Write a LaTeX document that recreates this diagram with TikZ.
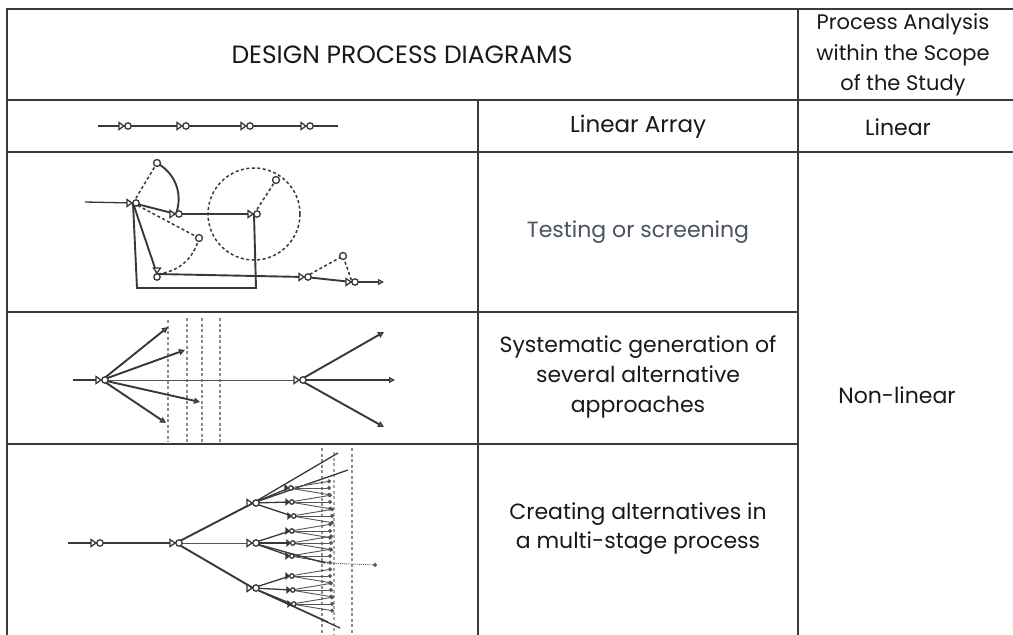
\documentclass[tikz,border=0pt]{standalone}
\usepackage{fontspec}
\setmainfont{Poppins}
\usetikzlibrary{arrows.meta,calc}
\definecolor{gridc}{HTML}{3A3A3A}
\definecolor{slate}{HTML}{4B5263}
\definecolor{inkc}{HTML}{383838}
\tikzset{
  tbl/.style={draw=gridc,line width=2pt},
  txt/.style={font=\fontsize{22}{31}\selectfont,align=center,inner sep=0pt,text=black!90},
  sk/.style={draw=inkc,line width=1.3pt},
  skb/.style={draw=inkc,line width=1.9pt},
  sks/.style={draw=inkc!85,line width=0.9pt},
  dsh/.style={draw=inkc,line width=1.5pt,dash pattern=on 3pt off 2.5pt},
  vdash/.style={draw=black!45,line width=2.6pt,dash pattern=on 3pt off 2.5pt},
  nd/.pic={\draw[sk,fill=white] (-6,-3.5) -- (-6,3.5) -- (-1,0) -- cycle;
           \draw[sk,fill=white] (3,0) circle (3.2);},
  ndv/.pic={\draw[sk,fill=white] (-3.5,-6) -- (3.5,-6) -- (0,-1) -- cycle;
           \draw[sk,fill=white] (0,3) circle (3.2);},
  ndsm/.pic={\draw[sk,fill=inkc] (-4,-2.5) -- (-4,2.5) -- (-1,0) -- cycle;
           \draw[sk,fill=white] (1.8,0) circle (2.2);},
  tip/.style={-{Triangle[open,length=6pt,width=6pt]}},
  dot/.style={-{Circle[length=4pt]}},
}
\begin{document}
\begin{tikzpicture}[x=1pt,y=-1pt]
\useasboundingbox (0,0) rectangle (1013,635);
\fill[white] (0,0) rectangle (1013,635);

% ---------- table grid ----------
\draw[tbl] (7,635) -- (7,9) -- (1013,9);
\draw[tbl] (7,100) -- (1013,100);
\draw[tbl] (7,152) -- (1013,152);
\draw[tbl] (7,312) -- (798,312);
\draw[tbl] (7,444) -- (798,444);
\draw[tbl] (478,100) -- (478,635);
\draw[tbl] (798,9) -- (798,635);

% ---------- texts ----------
\node[txt,font=\fontsize{25}{31}\selectfont] (t1) at (402,55) {DESIGN PROCESS DIAGRAMS};
\node[txt,font=\fontsize{21}{30.5}\selectfont] (t2) at (903,55) {Process Analysis\\within the Scope\\of the Study};
\node[txt,font=\fontsize{23}{31}\selectfont] (t3) at (638,127) {Linear Array};
\node[txt] (t4) at (898,127) {Linear};
\node[txt,text=slate] (t5) at (638,232) {Testing or screening};
\node[txt,font=\fontsize{22}{30}\selectfont] (t6) at (638,377) {Systematic generation of\\several alternative\\approaches};
\node[txt,font=\fontsize{22}{29}\selectfont] (t7) at (638,529) {Creating alternatives in\\a multi-stage process};
\node[txt] (t8) at (897,395) {Non-linear};

% ---------- row 2: linear array ----------
\coordinate (L0) at (98,126);
\coordinate (L1) at (125,126);
\coordinate (L2) at (183,126);
\coordinate (L3) at (247,126);
\coordinate (L4) at (307,126);
\coordinate (L5) at (338,126);
\draw[sk] (L0) -- (L1);
\draw[skb] (L1) -- (L2);
\draw[sk] (L2) -- (L3);
\draw[skb] (L3) -- (L4);
\draw[skb] (L4) -- (L5);
\foreach \n in {L1,L2,L3,L4} \pic at (\n) {nd};

% ---------- row 3: testing or screening ----------
\coordinate (Ain) at (85,202);
\coordinate (A) at (133,203);
\coordinate (B) at (176,214);
\coordinate (C) at (254,214);
\coordinate (D) at (157,274);
\coordinate (E) at (305,277);
\coordinate (F) at (352,282);
\coordinate (G) at (343,256);
\coordinate (H) at (276,180);
\coordinate (I) at (157,163);
\coordinate (J) at (199,238);
\coordinate (Aout) at (384,282);
\coordinate (R1) at (137,288);
\coordinate (R2) at (256,288);
\draw[dsh] (C) circle (46);
\draw[sk] (Ain) -- (A);
\draw[skb] (A) -- (B);
\draw[skb] (B) -- (C);
\draw[skb] (C) -- (R2) -- (R1) -- (A);
\draw[skb] (A) -- (D);
\draw[skb] (D) -- (E);
\draw[skb] (E) -- (F);
\draw[sk,tip] (F) -- (Aout);
\draw[dsh] (A) -- (I);
\draw[skb] (I) to[bend left=40] (B);
\draw[dsh] (A) -- (J);
\draw[dsh] (J) to[bend left=35] (D);
\draw[dsh] (C) -- (H);
\draw[dsh] (E) -- (G) -- (F);
\foreach \n in {A,B,C,E,F} \pic at (\n) {nd};
\pic at (D) {ndv};
\foreach \n in {G,H,I,J} \draw[sk,fill=white] (\n) circle (3.5);

% ---------- row 4: systematic generation ----------
\draw[vdash] (168,320) -- (168,442);
\draw[vdash] (187,318) -- (187,442);
\draw[vdash] (202,318) -- (202,442);
\draw[vdash] (220,318) -- (220,442);
\coordinate (Pin) at (73,380);
\coordinate (P) at (102,380);
\coordinate (Q) at (300,380);
\coordinate (P1) at (168,327);
\coordinate (P2) at (185,350);
\coordinate (P3) at (200,402);
\coordinate (P4) at (166,423);
\coordinate (Q1) at (384,332);
\coordinate (Q2) at (395,380);
\coordinate (Q3) at (384,427);
\draw[sk] (Pin) -- (P);
\draw[sks] (P) -- (Q);
\draw[skb,tip] (P) -- (P1);
\draw[skb,tip] (P) -- (P2);
\draw[skb,tip] (P) -- (P3);
\draw[skb,tip] (P) -- (P4);
\draw[skb,tip] (Q) -- (Q1);
\draw[sk,tip] (Q) -- (Q2);
\draw[skb,tip] (Q) -- (Q3);
\pic at (P) {nd};
\pic at (Q) {nd};

% ---------- row 5: multi-stage ----------
\draw[vdash] (322,448) -- (322,635);
\draw[vdash,draw=black!35] (334,452) -- (334,635);
\draw[vdash] (352,448) -- (352,635);
\coordinate (Sin) at (68,543);
\coordinate (S) at (97,543);
\coordinate (T) at (176,543);
\coordinate (C1) at (253,503);
\coordinate (C2) at (253,543);
\coordinate (C3) at (253,588);
\coordinate (Sout) at (377,565);
\coordinate (Sm) at (325,563);
\draw[skb] (Sin) -- (S);
\draw[sk] (S) -- (T);
\draw[skb] (T) -- (C1);
\draw[sks] (T) -- (C2);
\draw[skb] (T) -- (C3);
\coordinate (U1) at (338,453);
\coordinate (U2) at (348,470);
\coordinate (U3) at (340,628);
\coordinate (U4) at (328,622);
\draw[sk] (C1) -- (U1);
\draw[sk] (C1) -- (U2);
\draw[sk] (C3) -- (U3);
\draw[sk] (C3) -- (U4);
\foreach \d/\c/\x/\y in {d1/C1/289/488, d2/C1/290/502, d3/C1/292/516,
                          d4/C2/290/531, d5/C2/291/543, d6/C2/290/556,
                          d7/C3/290/576, d8/C3/291/590, d9/C3/292/604}{
  \coordinate (\d) at (\x,\y);
  \draw[sk] (\c) -- (\d);
  \foreach \k/\dy in {a/-7,b/0,c/7}{
    \path (\d) ++(42,\dy) coordinate (\d\k);
    \draw[sks,dot] (\d) -- (\d\k);
  }
  \pic at (\d) {ndsm};
}
\draw[sk] (C2) -- (Sm);
\draw[sks,dot,densely dotted] (Sm) -- (Sout);
\pic at (S) {nd};
\pic at (T) {nd};
\pic at (C1) {nd};
\pic at (C2) {nd};
\pic at (C3) {nd};
\end{tikzpicture}
\end{document}
